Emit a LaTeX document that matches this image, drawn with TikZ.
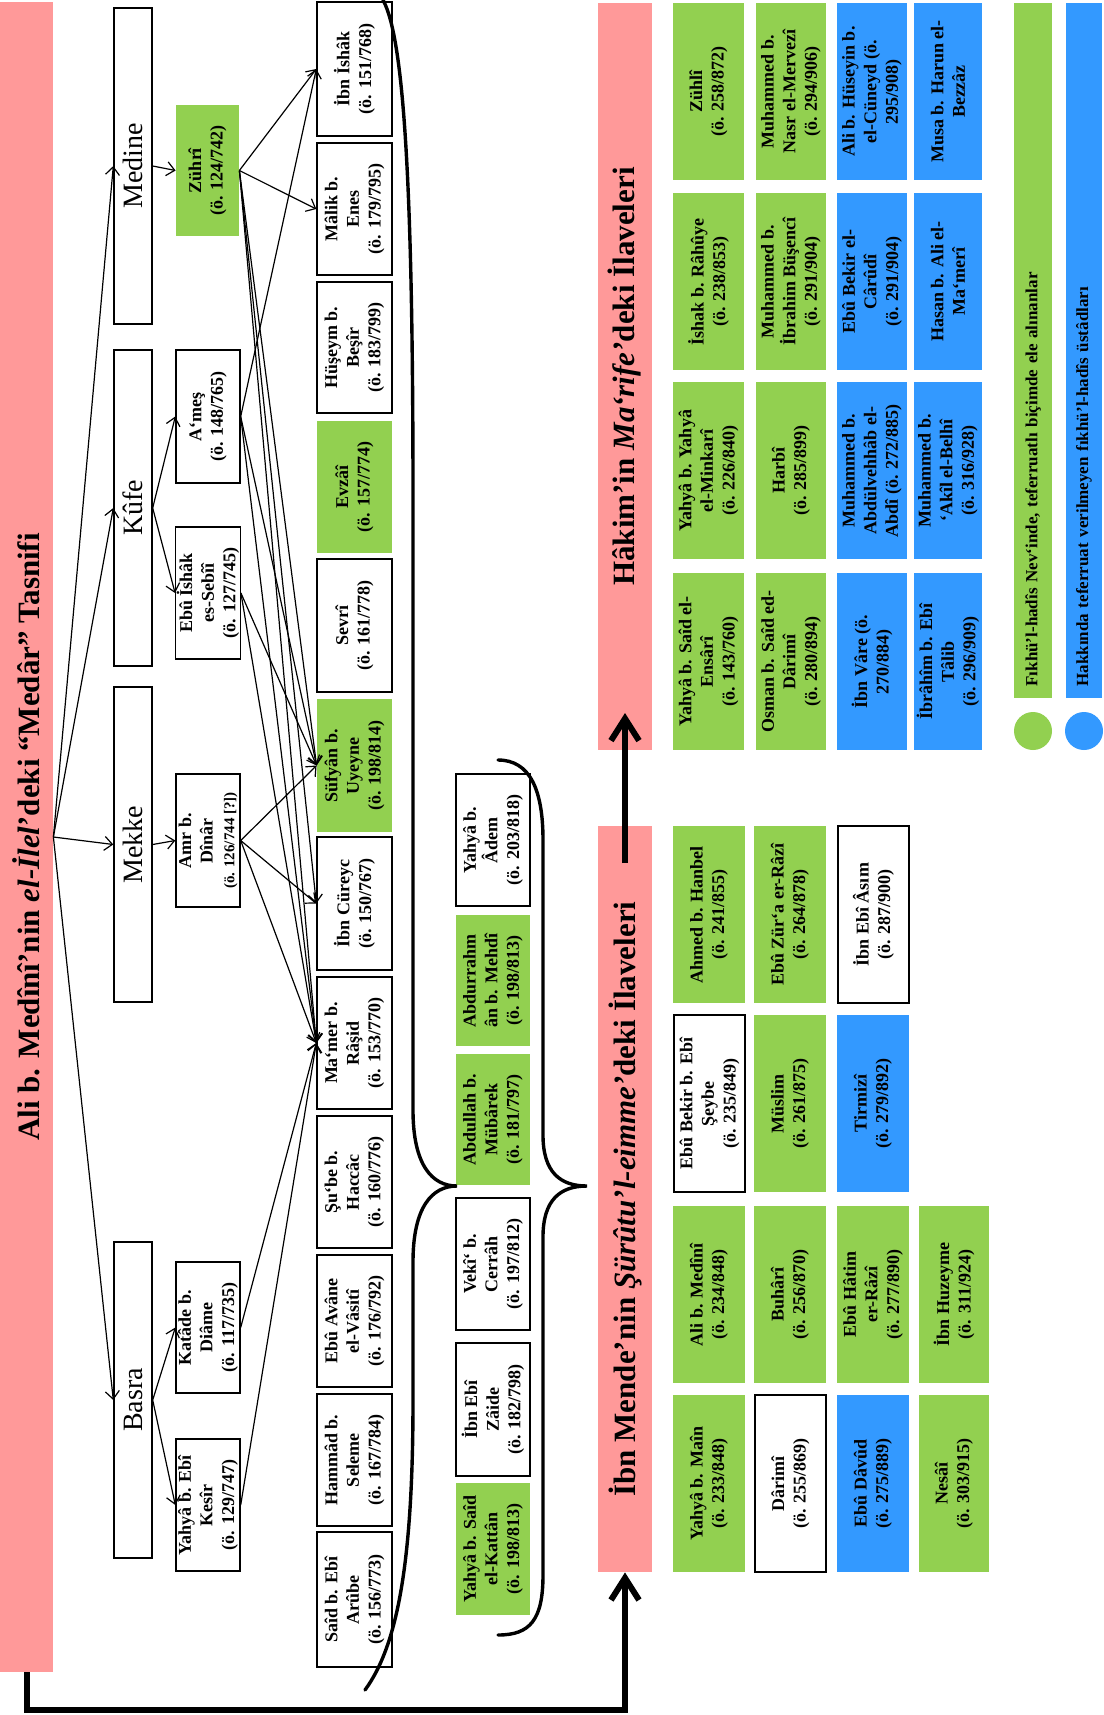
\documentclass[tikz,border=0pt]{standalone}
\usepackage{fontspec}
\setmainfont{Liberation Serif}
\usetikzlibrary{arrows.meta}
\definecolor{pinkbar}{RGB}{255,153,153}
\definecolor{grn}{RGB}{146,208,80}
\definecolor{blu}{RGB}{51,153,255}
\newcommand\pbox[7]{%
  \pgfmathsetmacro\pcx{(#3+#5)/2}%
  \pgfmathsetmacro\pcy{(#4+#6)/2}%
  \pgfmathsetmacro\pw{(#6-#4)*0.5}%
  \pgfmathsetmacro\ph{(#5-#3)*0.5}%
  \node[#1, minimum width=\pw pt, minimum height=\ph pt] (#2) at (\pcx,\pcy) {#7};%
}
\begin{document}
\begin{tikzpicture}[x=0.5pt,y=-0.5pt,
  base/.style={rotate=90, inner sep=0.5pt, align=center, font=\fontsize{9}{10.8}\selectfont\bfseries},
  wbox/.style={base, draw=black, line width=0.7pt, fill=white},
  gbox/.style={base, fill=grn},
  bbox/.style={base, fill=blu},
  city/.style={rotate=90, draw=black, line width=0.7pt, fill=white, inner sep=0.5pt, font=\fontsize{14}{16}\selectfont},
  tbar/.style={rotate=90, fill=pinkbar, inner sep=0pt, font=\fontsize{15.5}{18}\selectfont\bfseries},
  legbar/.style={rotate=90, inner ysep=0pt, inner xsep=0pt, text width=336pt, align=left, font=\fontsize{8.5}{10}\selectfont\bfseries},
  legdot/.style={circle, inner sep=0pt, minimum size=19pt},
  arr/.style={-{Straight Barb[length=4pt,width=7pt]}, line width=0.6pt},
  bigarr/.style={-{Straight Barb[length=11pt,width=14pt]}, line width=3pt},
  brace/.style={line width=1.7pt, line cap=round}
]
\fill[white] (0,0) rectangle (1104,1715);
\useasboundingbox (0,0) rectangle (1104,1715);

% title bars
\pbox{tbar}{ali}{0}{2}{53}{1672}{Ali b. Medînî’nin \textit{el-İlel}’deki “Medâr” Tasnifi}
\pbox{tbar}{hakim}{598}{3}{652}{750}{Hâkim’in \textit{Ma‘rife’}deki İlaveleri}
\pbox{tbar}{mende}{598}{826}{652}{1572}{İbn Mende’nin \textit{Şürûtu’l-eimme’}deki İlaveleri}

% cities
\pbox{city}{medine}{114}{8}{152}{324}{Medine}
\pbox{city}{kufe}{114}{350}{152}{666}{Kûfe}
\pbox{city}{mekke}{114}{687}{152}{1002}{Mekke}
\pbox{city}{basra}{114}{1242}{152}{1558}{Basra}

% medar
\pbox{gbox}{zuhri}{176}{105}{239}{236}{Zührî\\(ö. 124/742)}
\pbox{wbox}{ames}{176}{350}{240}{483}{A‘meş\\(ö. 148/765)}
\pbox{wbox}{ebuishak}{176}{527}{240}{659}{Ebû İshâk\\es-Sebîî\\(ö. 127/745)}
\pbox{wbox}{amr}{176}{774}{240}{907}{Amr b.\\Dînâr\\{\fontsize{7.5}{9}\selectfont(ö. 126/744 [?])}}
\pbox{wbox}{katade}{176}{1262}{240}{1393}{Katâde b.\\Diâme\\(ö. 117/735)}
\pbox{wbox}{yahyak}{176}{1439}{240}{1571}{Yahyâ b. Ebî\\Kesîr\\(ö. 129/747)}

% students
\pbox{wbox}{ibnishak}{317}{2}{392}{136}{İbn İshâk\\(ö. 151/768)}
\pbox{wbox}{malik}{317}{143}{392}{275}{Mâlik b.\\Enes\\(ö. 179/795)}
\pbox{wbox}{huseym}{317}{282}{392}{413}{Hüşeym b.\\Beşîr\\(ö. 183/799)}
\pbox{gbox}{evzai}{317}{421}{392}{553}{Evzâî\\(ö. 157/774)}
\pbox{wbox}{sevri}{317}{559}{392}{692}{Sevrî\\(ö. 161/778)}
\pbox{gbox}{sufyan}{317}{699}{392}{832}{Süfyân b.\\Uyeyne\\(ö. 198/814)}
\pbox{wbox}{cureyc}{317}{837}{392}{970}{İbn Cüreyc\\(ö. 150/767)}
\pbox{wbox}{mamer}{317}{977}{392}{1109}{Ma‘mer b.\\Râşid\\(ö. 153/770)}
\pbox{wbox}{sube}{317}{1116}{392}{1248}{Şu‘be b.\\Haccâc\\(ö. 160/776)}
\pbox{wbox}{avane}{317}{1255}{392}{1387}{Ebû Avâne\\el-Vâsitî\\(ö. 176/792)}
\pbox{wbox}{hammad}{317}{1394}{392}{1526}{Hammâd b.\\Seleme\\(ö. 167/784)}
\pbox{wbox}{said}{317}{1532}{392}{1667}{Saîd b. Ebî\\Arûbe\\(ö. 156/773)}

% inner column
\pbox{wbox}{yadem}{456}{774}{530}{906}{Yahyâ b.\\Âdem\\(ö. 203/818)}
\pbox{gbox}{abdurrahman}{456}{915}{530}{1046}{Abdurrahm\\ân b. Mehdî\\(ö. 198/813)}
\pbox{gbox}{abdullah}{456}{1054}{530}{1185}{Abdullah b.\\Mübârek\\(ö. 181/797)}
\pbox{wbox}{veki}{456}{1198}{530}{1330}{Vekî‘ b.\\Cerrâh\\(ö. 197/812)}
\pbox{wbox}{ibnzaide}{456}{1343}{530}{1476}{İbn Ebî\\Zâide\\(ö. 182/798)}
\pbox{gbox}{kattan}{456}{1483}{530}{1615}{Yahyâ b. Saîd\\el-Kattân\\(ö. 198/813)}

% Hakim section
\pbox{gbox}{h11}{673}{3}{744}{180}{Zühlî\\(ö. 258/872)}
\pbox{gbox}{h12}{756}{3}{826}{180}{Muhammed b.\\Nasr el-Mervezî\\(ö. 294/906)}
\pbox{bbox}{h13}{837}{3}{907}{180}{Ali b. Hüseyin b.\\el-Cüneyd (ö.\\295/908)}
\pbox{bbox}{h14}{914}{3}{982}{180}{Musa b. Harun el-\\Bezzâz}
\pbox{gbox}{h21}{673}{193}{744}{370}{İshak b. Râhûye\\(ö. 238/853)}
\pbox{gbox}{h22}{756}{193}{826}{370}{Muhammed b.\\İbrahim Büşencî\\(ö. 291/904)}
\pbox{bbox}{h23}{837}{193}{907}{370}{Ebû Bekir el-\\Cârûdî\\(ö. 291/904)}
\pbox{bbox}{h24}{914}{193}{982}{370}{Hasan b. Ali el-\\Ma‘merî}
\pbox{gbox}{h31}{673}{382}{744}{559}{Yahyâ b. Yahyâ\\el-Minkarî\\(ö. 226/840)}
\pbox{gbox}{h32}{756}{382}{826}{559}{Harbî\\(ö. 285/899)}
\pbox{bbox}{h33}{837}{382}{907}{559}{Muhammed b.\\Abdülvehhâb el-\\Abdî (ö. 272/885)}
\pbox{bbox}{h34}{914}{382}{982}{559}{Muhammed b.\\‘Akîl el-Belhî\\(ö. 316/928)}
\pbox{gbox}{h41}{673}{573}{744}{750}{Yahyâ b. Saîd el-\\Ensârî\\(ö. 143/760)}
\pbox{gbox}{h42}{756}{573}{826}{750}{Osman b. Saîd ed-\\Dârimî\\(ö. 280/894)}
\pbox{bbox}{h43}{837}{573}{907}{750}{İbn Vâre (ö.\\270/884)}
\pbox{bbox}{h44}{914}{573}{982}{750}{İbrâhîm b. Ebî\\Tâlib\\(ö. 296/909)}

% Ibn Mende section
\pbox{gbox}{m11}{673}{826}{745}{1003}{Ahmed b. Hanbel\\(ö. 241/855)}
\pbox{gbox}{m12}{754}{826}{826}{1003}{Ebû Zür‘a er-Râzî\\(ö. 264/878)}
\pbox{wbox}{m13}{838}{826}{909}{1003}{İbn Ebî Âsım\\(ö. 287/900)}
\pbox{wbox}{m21}{674}{1015}{745}{1192}{Ebû Bekir b. Ebî\\Şeybe\\(ö. 235/849)}
\pbox{gbox}{m22}{754}{1015}{826}{1192}{Müslim\\(ö. 261/875)}
\pbox{bbox}{m23}{837}{1015}{909}{1192}{Tirmizî\\(ö. 279/892)}
\pbox{gbox}{m31}{673}{1206}{745}{1383}{Ali b. Medînî\\(ö. 234/848)}
\pbox{gbox}{m32}{754}{1206}{826}{1383}{Buhârî\\(ö. 256/870)}
\pbox{gbox}{m33}{837}{1206}{909}{1383}{Ebû Hâtim\\er-Râzî\\(ö. 277/890)}
\pbox{gbox}{m34}{919}{1206}{989}{1383}{İbn Huzeyme\\(ö. 311/924)}
\pbox{gbox}{m41}{673}{1395}{745}{1572}{Yahyâ b. Maîn\\(ö. 233/848)}
\pbox{wbox}{m42}{755}{1395}{826}{1572}{Dârimî\\(ö. 255/869)}
\pbox{bbox}{m43}{837}{1395}{909}{1572}{Ebû Dâvûd\\(ö. 275/889)}
\pbox{gbox}{m44}{919}{1395}{989}{1572}{Nesâî\\(ö. 303/915)}

% legend
\pbox{legbar,fill=grn}{leg1}{1014}{3}{1052}{698}{Fıkhü’l-hadîs Nev‘inde, teferruatlı biçimde ele alınanlar}
\pbox{legbar,fill=blu}{leg2}{1066}{3}{1102}{698}{Hakkında teferruat verilmeyen fıkhü’l-hadîs üstâdları}
\node[legdot, fill=grn] (dot1) at (1033,731) {};
\node[legdot, fill=blu] (dot2) at (1084,731) {};

% arrows Ali -> cities
\foreach \c in {medine,kufe,mekke,basra} \draw[arr] (ali.south) -- (\c.north);
\draw[arr] (medine.south) -- (zuhri.north);
\draw[arr] (kufe.south) -- (ames.north);
\draw[arr] (kufe.south) -- (ebuishak.north);
\draw[arr] (mekke.south) -- (amr.north);
\draw[arr] (basra.south) -- (katade.north);
\draw[arr] (basra.south) -- (yahyak.north);
% medar -> students
\foreach \t in {ibnishak,malik,sufyan,cureyc,mamer} \draw[arr] (zuhri.south) -- (\t.north);
\foreach \t in {ibnishak,sufyan,mamer} \draw[arr] (ames.south) -- (\t.north);
\foreach \t in {sufyan,mamer} \draw[arr] (ebuishak.south) -- (\t.north);
\foreach \t in {sufyan,cureyc,mamer} \draw[arr] (amr.south) -- (\t.north);
\draw[arr] (katade.south) -- (mamer.north);
\draw[arr] (yahyak.south) -- (mamer.north);

% braces
\draw[brace] (383,0) .. controls (405,40) and (413,200) .. (413,500) -- (413,1110)
  .. controls (413,1165) and (432,1186) .. (457,1186)
  .. controls (432,1186) and (413,1207) .. (413,1262) -- (413,1400)
  .. controls (413,1560) and (398,1645) .. (365,1690);
\draw[brace] (498,760) .. controls (530,760) and (543,790) .. (543,840) -- (543,1135)
  .. controls (543,1172) and (560,1186) .. (587,1186)
  .. controls (560,1186) and (543,1200) .. (543,1237) -- (543,1575)
  .. controls (543,1620) and (530,1635) .. (498,1635);

% thick arrows
\coordinate (crn) at (625,1710);
\draw[bigarr] (ali.west) |- (crn) -- (mende.west);
\coordinate (hkS) at (625,863);
\coordinate (hkT) at (625,713);
\draw[bigarr] (hkS) -- (hkT);
\end{tikzpicture}
\end{document}
